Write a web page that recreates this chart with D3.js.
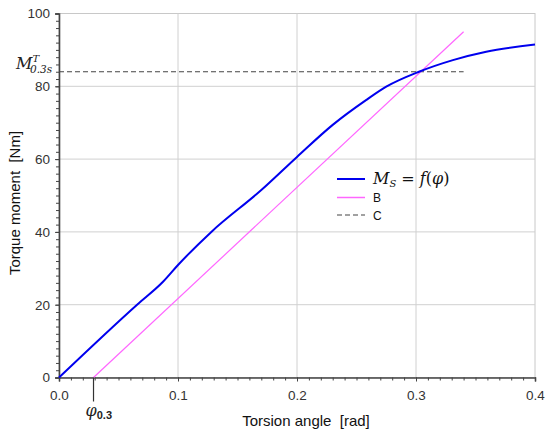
<!DOCTYPE html>
<html>
<head>
<meta charset="utf-8">
<script src="https://cdn.jsdelivr.net/npm/d3@7"></script>
<style>
  body { margin: 0; background: #fff; }
  svg { display: block; }
  text { font-family: "Liberation Sans", Arial, sans-serif; }
  .math { font-family: "DejaVu Serif", "Liberation Serif", serif; font-style: italic; }
  .pre { white-space: pre; }
</style>
</head>
<body>
<svg id="chart" width="550" height="435"></svg>
<script>
// torsion angle [rad] vs torque moment [Nm]
const curveAngle  = [0, 0.0656, 0.0874, 0.1, 0.128, 0.17, 0.2, 0.23, 0.258, 0.275, 0.3025, 0.331, 0.359, 0.4];
const curveTorque = [0, 20, 26.3, 30.9, 40, 51.5, 60.6, 69.4, 76.2, 79.9, 84, 87.2, 89.5, 91.5];

// line B (elastic offset line) and C (torque limit)
const lineBAngle  = [0.029, 0.34];
const lineBTorque = [0, 95];
const lineCAngle  = [0, 0.34];
const lineCTorque = [84, 84];

const xTicks = [0, 0.1, 0.2, 0.3, 0.4];
const yTicks = [0, 20, 40, 60, 80, 100];
const legendLabels = ["B", "C"];

const svg = d3.select("#chart");
const margin = { top: 13.5, right: 15, bottom: 57.5, left: 59 };
const width = 550, height = 435;
const innerWidth = width - margin.left - margin.right;
const innerHeight = height - margin.top - margin.bottom;

const x = d3.scaleLinear().domain([0, 0.4]).range([0, innerWidth]);
const y = d3.scaleLinear().domain([0, 100]).range([innerHeight, 0]);

const g = svg.append("g").attr("transform", `translate(${margin.left},${margin.top})`);

// frame top/right
g.append("rect")
  .attr("width", innerWidth).attr("height", innerHeight)
  .attr("fill", "none").attr("stroke", "#c8c8c8").attr("stroke-width", 1);

// grid
g.selectAll(".vgrid").data(xTicks.slice(1, -1)).join("line")
  .attr("x1", d => x(d)).attr("x2", d => x(d))
  .attr("y1", 0).attr("y2", innerHeight)
  .attr("stroke", "#d0d0d0").attr("stroke-width", 1);
g.selectAll(".hgrid").data(yTicks.slice(1, -1)).join("line")
  .attr("x1", 0).attr("x2", innerWidth)
  .attr("y1", d => y(d)).attr("y2", d => y(d))
  .attr("stroke", "#d0d0d0").attr("stroke-width", 1);

// minor ticks
const xMinor = d3.range(0, 0.4001, 0.01);
const yMinor = d3.range(0, 100.01, 2);
g.append("g").attr("transform", `translate(0,${innerHeight})`)
  .call(d3.axisBottom(x).tickValues(xMinor).tickSize(3).tickFormat(""))
  .call(a => a.select(".domain").remove())
  .call(a => a.selectAll("text").remove())
  .selectAll("line").attr("stroke", "#444");
g.append("g")
  .call(d3.axisLeft(y).tickValues(yMinor).tickSize(3).tickFormat(""))
  .call(a => a.select(".domain").remove())
  .call(a => a.selectAll("text").remove())
  .selectAll("line").attr("stroke", "#444");

// main axes
const xAxis = g.append("g").attr("transform", `translate(0,${innerHeight})`)
  .call(d3.axisBottom(x).tickValues(xTicks).tickSize(4).tickPadding(6).tickFormat(d3.format(".1f")));
const yAxis = g.append("g")
  .call(d3.axisLeft(y).tickValues(yTicks).tickSize(4).tickPadding(5).tickFormat(d3.format("d")));
[xAxis, yAxis].forEach(a => {
  a.select(".domain").attr("stroke", "#444").attr("stroke-width", 1.6);
  a.selectAll(".tick line").attr("stroke", "#444");
  a.selectAll(".tick text").attr("font-size", 13.5).attr("fill", "#333")
    .attr("font-family", "Liberation Sans, Arial, sans-serif");
});
xAxis.selectAll(".tick text").attr("dy", "0.95em");

// lines
const line = d3.line().x(d => x(d[0])).y(d => y(d[1]));

g.append("path")
  .datum(lineCAngle.map((a, i) => [a, lineCTorque[i]]))
  .attr("d", line).attr("fill", "none")
  .attr("stroke", "#444").attr("stroke-width", 1.2).attr("stroke-dasharray", "5,3");

g.append("path")
  .datum(lineBAngle.map((a, i) => [a, lineBTorque[i]]))
  .attr("d", line).attr("fill", "none")
  .attr("stroke", "#ff66ff").attr("stroke-width", 1.2);

g.append("path")
  .datum(curveAngle.map((a, i) => [a, curveTorque[i]]))
  .attr("d", line.curve(d3.curveMonotoneX)).attr("fill", "none")
  .attr("stroke", "#0000ee").attr("stroke-width", 2);

// phi_0.3 marker below the axis
g.append("line")
  .attr("x1", x(lineBAngle[0])).attr("x2", x(lineBAngle[0]))
  .attr("y1", innerHeight).attr("y2", innerHeight + 24)
  .attr("stroke", "#333").attr("stroke-width", 1.2);
const phi = g.append("text")
  .attr("x", x(lineBAngle[0]) - 8).attr("y", innerHeight + 38)
  .attr("font-size", 16).attr("fill", "#222");
phi.append("tspan").attr("class", "math").text("φ");
phi.append("tspan").attr("font-size", 11).attr("font-weight", "bold").attr("dy", 3).text("0.3");

// M^T_0.3s label (one text element)
const mt = g.append("text").attr("x", -43).attr("y", y(84) - 3)
  .attr("font-size", 16).attr("fill", "#222");
mt.append("tspan").attr("class", "math").text("M");
mt.append("tspan").attr("class", "math").attr("font-size", 10).attr("dy", -7).text("T");
mt.append("tspan").attr("class", "math").attr("font-size", 10.5)
  .attr("x", -29).attr("dy", 11).text("0.3s");

// axis titles
svg.append("text").attr("class", "pre")
  .attr("x", 306).attr("y", 426)
  .attr("text-anchor", "middle").attr("font-size", 15).attr("fill", "#111")
  .text("Torsion angle  [rad]");
svg.append("text").attr("class", "pre")
  .attr("transform", "translate(20,203) rotate(-90)")
  .attr("text-anchor", "middle").attr("font-size", 15).attr("fill", "#111")
  .text("Torque moment  [Nm]");

// legend
const legend = svg.append("g").attr("transform", "translate(337,179)");
const legendStyles = [
  { stroke: "#0000ee", width: 2, dash: null },
  { stroke: "#ff66ff", width: 1.5, dash: null },
  { stroke: "#444", width: 1.2, dash: "5,3" }
];
legendStyles.forEach((s, i) => {
  const yy = [0, 18.5, 36][i];
  legend.append("line").attr("x1", 0).attr("x2", 28).attr("y1", yy).attr("y2", yy)
    .attr("stroke", s.stroke).attr("stroke-width", s.width).attr("stroke-dasharray", s.dash);
});
const ms = legend.append("text").attr("x", 36).attr("y", 5).attr("font-size", 16).attr("fill", "#111");
ms.append("tspan").attr("class", "math").text("M");
ms.append("tspan").attr("class", "math").attr("font-size", 10).attr("dy", 3).text("S");
ms.append("tspan").attr("dy", -3).attr("font-family", "DejaVu Serif, serif").text(" = ");
ms.append("tspan").attr("class", "math").text("f");
ms.append("tspan").attr("font-family", "DejaVu Serif, serif").text("(");
ms.append("tspan").attr("class", "math").text("φ");
ms.append("tspan").attr("font-family", "DejaVu Serif, serif").text(")");
legendLabels.forEach((t, i) => {
  legend.append("text").attr("x", 36).attr("y", [18.5, 36][i] + 4.5)
    .attr("font-size", 12).attr("fill", "#111").text(t);
});
</script>
</body>
</html>
